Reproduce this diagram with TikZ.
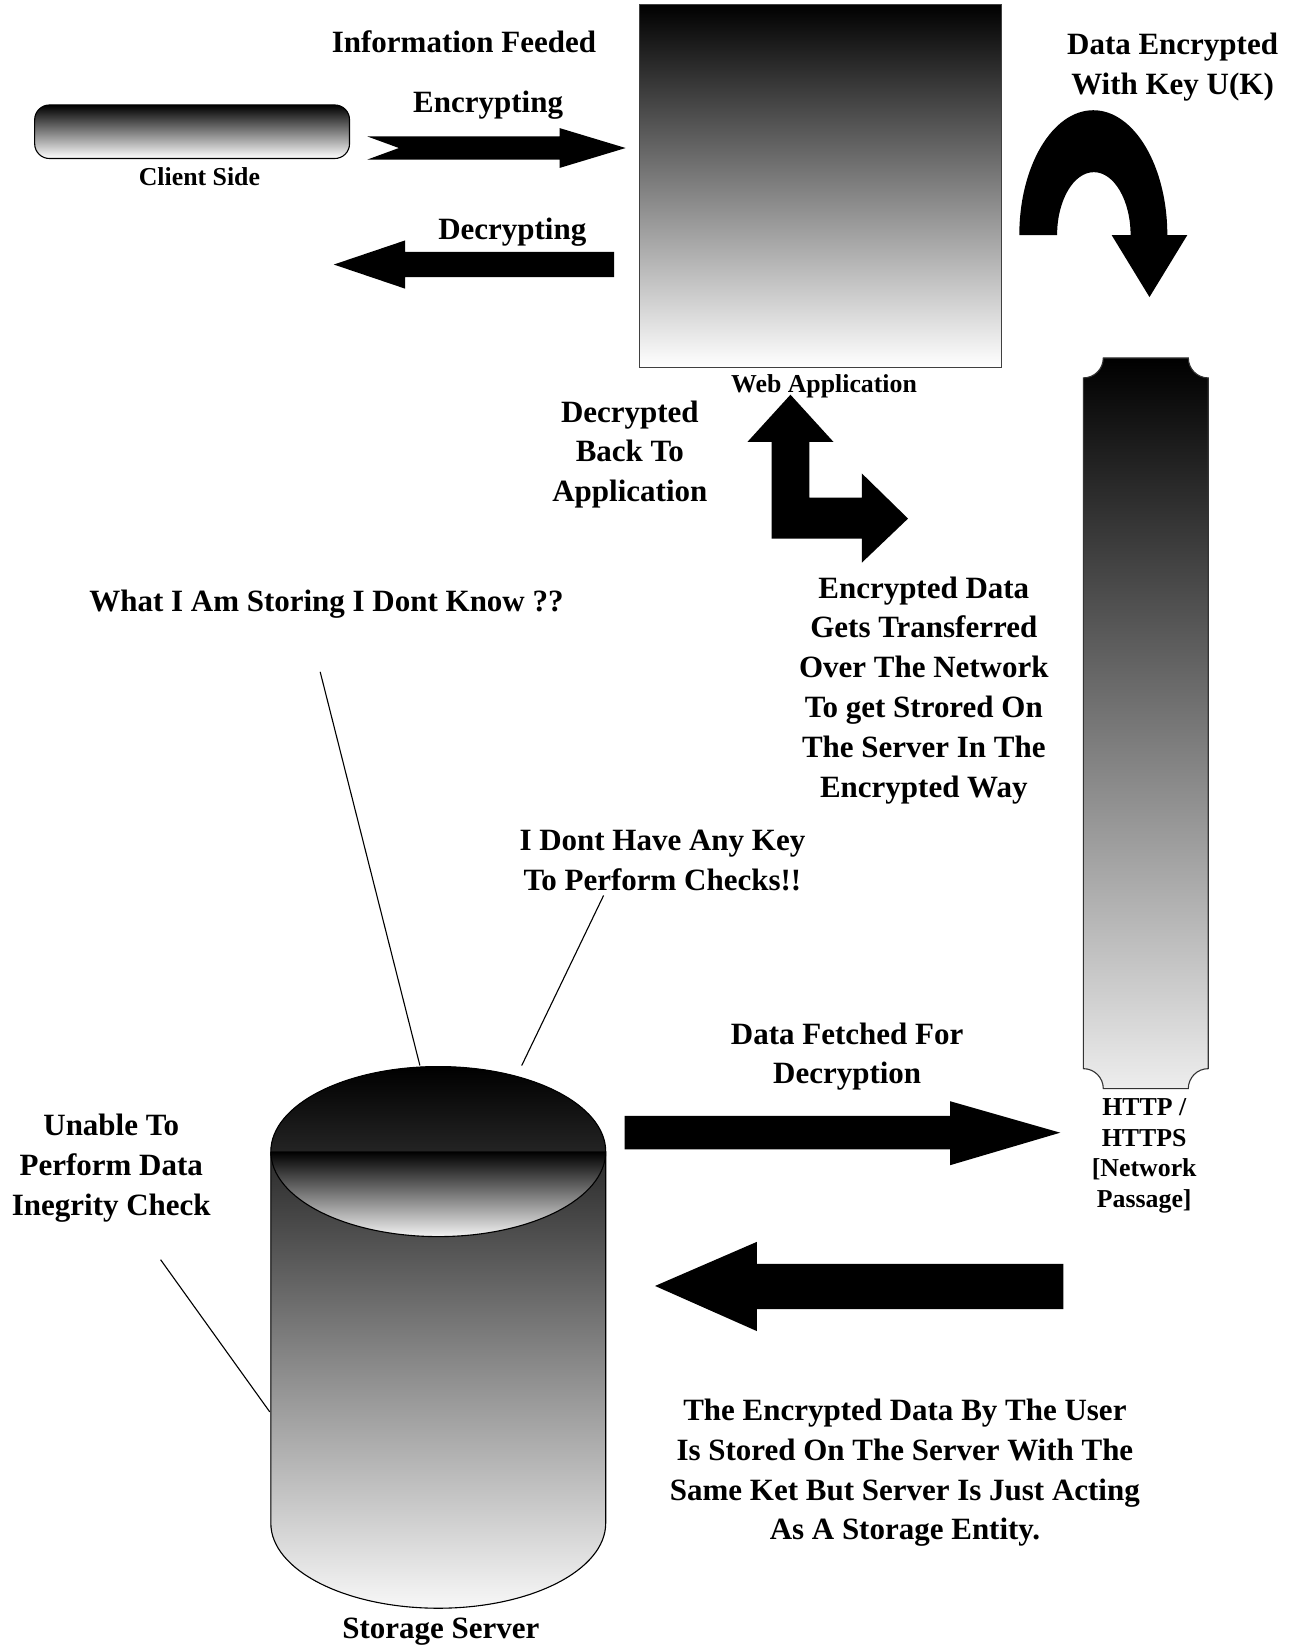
\documentclass[tikz,border=0pt]{standalone}
\usepackage{fontspec}
\setmainfont{Liberation Serif}
\begin{document}
\begin{tikzpicture}[x=0.02cm,y=-0.02cm]
        \tikzset{box/.style = {draw, top color=black, bottom color=white, inner sep=0pt}};
        \tikzset{big/.style = {font=\fontsize{16.8}{21.6}\selectfont\bfseries, align=center, inner sep=0pt, yshift=-0.06cm}};
        \tikzset{small/.style = {font=\fontsize{14}{16.5}\selectfont\bfseries, align=center, inner sep=0pt, yshift=-0.06cm}};
        \tikzset{block/.style = {fill=black}};
        \tikzset{leader/.style = {draw, line width=0.6pt}};
        \useasboundingbox (0,0) rectangle (1231,1568);
        % boxes
        \node[box, rounded corners=8, line width=0.6pt, minimum width=6cm, minimum height=1.02cm] (client) at (183,125.5) {};
        \node[box, draw=black!75, line width=0.6pt, minimum width=6.9cm, minimum height=6.92cm] (web) at (781.5,177) {};
        \draw[line width=0.6pt, draw=black!80, top color=black, bottom color=white!93!black] (1051,341) -- (1132,341) arc[start angle=180, end angle=90, radius=19] -- (1151,1018) arc[start angle=270, end angle=180, radius=19] -- (1051,1037) arc[start angle=360, end angle=270, radius=19] -- (1032,360) arc[start angle=90, end angle=0, radius=19] -- cycle;
        % storage cylinder
        \fill[top color=black!84, bottom color=white!97!black] (258,1097) -- (258,1451) arc[start angle=180, end angle=0, x radius=159.5, y radius=81] -- (577,1097) -- cycle;
        \draw[line width=0.6pt] (258,1097) -- (258,1451) arc[start angle=180, end angle=0, x radius=159.5, y radius=81] -- (577,1097);
        \fill[top color=black, bottom color=black!86] (258,1097) arc[start angle=180, end angle=360, x radius=159.5, y radius=81] -- cycle;
        \fill[top color=black, bottom color=white!95!black] (577,1097) arc[start angle=0, end angle=180, x radius=159.5, y radius=81] -- cycle;
        \draw[line width=0.6pt] (417.5,1097) ellipse[x radius=159.5, y radius=81];
        % block arrows
        \fill[block] (350,130) -- (533,130) -- (533,122) -- (596,141) -- (533,160) -- (533,152) -- (350,152) -- (380,141) -- cycle;
        \fill[block] (585,240) -- (386,240) -- (386,229) -- (318,252) -- (386,275) -- (386,264) -- (585,264) -- cycle;
        \fill[block] (971,224) arc[start angle=180, end angle=360, x radius=70.5, y radius=119] -- (1131,224) -- (1095,283) -- (1059,224) -- (1077,224) arc[start angle=0, end angle=-180, x radius=35, y radius=60] -- cycle;
        \fill[block] (753,376) -- (794,421) -- (771,421) -- (771,474) -- (821,474) -- (821,451) -- (865,494) -- (821,536) -- (821,513) -- (735,513) -- (735,421) -- (712,421) -- cycle;
        \fill[block] (595,1063) -- (905,1063) -- (905,1049) -- (1010,1079) -- (905,1110) -- (905,1095) -- (595,1095) -- cycle;
        \fill[block] (1013,1204) -- (721,1204) -- (721,1183) -- (624,1225) -- (721,1268) -- (721,1247) -- (1013,1247) -- cycle;
        % labels
        \node[small] (clientlbl) at (190,165) {Client Side};
        \node[small] (weblbl) at (785,365) {Web Application};
        \node[small] (netlbl) at (1090,1098) {HTTP /\\HTTPS\\{[Network}\\Passage]};
        \node[big] (storelbl) at (420,1551) {Storage Server};
        \node[big] (feed) at (442,37) {Information Feeded};
        \node[big] (enc) at (465,97) {Encrypting};
        \node[big] (dec) at (488,218) {Decrypting};
        \node[big] (key) at (1117,61) {Data Encrypted\\With Key U(K)};
        \node[big] (back) at (600,430) {Decrypted\\Back To\\Application};
        \node[big] (trans) at (880,654.5) {Encrypted Data\\Gets Transferred\\Over The Network\\To get Strored On\\The Server In The\\Encrypted Way};
        \node[big] (what) at (311,573) {What I Am Storing I Dont Know ??};
        \node[big] (nokey) at (631,816.5) {I Dont Have Any Key\\To Perform Checks!!};
        \node[big] (fetch) at (807,1003.5) {Data Fetched For\\Decryption};
        \node[big] (unable) at (106,1110) {Unable To\\Perform Data\\Inegrity Check};
        \node[big] (same) at (862,1400) {The Encrypted Data By The User\\Is Stored On The Server With The\\Same Ket But Server Is Just Acting\\As A Storage Entity.};
        % leader lines
        \coordinate (w1) at (305,640);
        \coordinate (w2) at (400,1015);
        \coordinate (k1) at (575,853);
        \coordinate (k2) at (497,1015);
        \coordinate (u1) at (153,1200);
        \coordinate (u2) at (257,1345);
        \draw[leader] (w1) -- (w2);
        \draw[leader] (k1) -- (k2);
        \draw[leader] (u1) -- (u2);
\end{tikzpicture}
\end{document}
